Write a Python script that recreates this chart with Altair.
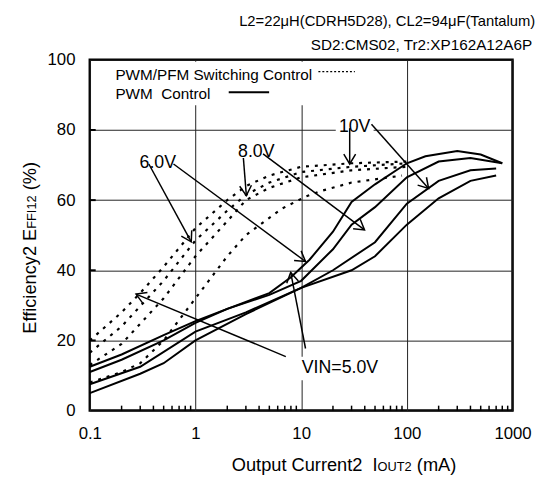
import math
import altair as alt
import pandas as pd

# ---------------- data ----------------
# PWM control (solid curves)
pwm_5v_x = [0.1, 0.2, 0.5, 1, 2, 5, 8, 12, 20, 30, 50, 100, 150, 300, 500, 800]
pwm_5v_y = [12.5, 16, 21.5, 25.5, 29, 33.5, 38, 43, 51, 59.5, 64.5, 70.5, 72.5, 74, 73, 70.5]
pwm_6v_x = [0.1, 0.2, 0.5, 1, 2, 5, 10, 20, 30, 50, 100, 200, 400, 800]
pwm_6v_y = [11, 14.5, 20, 25, 29, 33, 37, 46, 53, 58, 66.5, 71, 72, 70.5]
pwm_8v_x = [0.1, 0.3, 1, 3, 10, 20, 50, 100, 200, 400, 700]
pwm_8v_y = [7.5, 12.5, 22.5, 28, 35, 40, 48, 59, 65.5, 68.5, 69]
pwm_10v_x = [0.1, 0.3, 0.5, 1, 3, 10, 30, 50, 100, 200, 400, 700]
pwm_10v_y = [5, 10.5, 13.5, 20, 27.5, 35, 40, 44, 53, 60.5, 65.5, 67]

# PWM/PFM switching control (dotted curves)
pfm_5v_x = [0.1, 0.2, 0.3, 0.5, 1, 2, 3, 5, 10, 30, 100]
pfm_5v_y = [20, 28, 33.5, 41, 52, 60, 64, 67, 69.5, 70.5, 71]
pfm_6v_x = [0.1, 0.2, 0.5, 1, 2, 3, 5, 10, 30, 100]
pfm_6v_y = [16.5, 24, 37, 48.5, 57, 61.5, 65, 68, 69.5, 70.5]
pfm_8v_x = [0.1, 0.2, 0.5, 1, 2, 3, 5, 10, 30, 100]
pfm_8v_y = [13, 19, 32, 44, 54, 60, 63.5, 66.5, 68.5, 69.5]
pfm_10v_x = [0.1, 0.2, 0.3, 0.5, 1, 2, 3, 6.5, 11, 15, 30, 90]
pfm_10v_y = [8, 11, 13.5, 20, 32, 44, 50, 57.5, 61, 62.5, 65, 67]

# annotation labels and arrows (data coordinates)
label_text = ["6.0V", "8.0V", "10V", "VIN=5.0V"]
label_x = [0.44, 3.76, 32.1, 23.3]
label_y = [70.6, 73.7, 80.8, 12.0]

arrow_x1 = [0.362, 0.62, 2.84, 4.36, 28.8, 46.3, 7.16, 11.0]
arrow_y1 = [70.3, 70.3, 72.0, 73.2, 80.5, 81.6, 15.4, 17.7]
arrow_x2 = [0.912, 11.0, 3.03, 39.8, 28.8, 160.7, 0.274, 7.96]
arrow_y2 = [48.1, 42.5, 61.3, 51.5, 70.3, 63.3, 33.2, 39.4]

x_ticks = [0.1, 1, 10, 100, 1000]
y_ticks = [0, 20, 40, 60, 80, 100]
minor_x = [k * 10 ** d for d in range(-1, 3) for k in range(2, 10)]
inner_y = [20, 40, 60, 80]

NB = "\u00a0"
header_1 = "L2=22\u03bcH(CDRH5D28), CL2=94\u03bcF(Tantalum)"
header_2 = "SD2:CMS02, Tr2:XP162A12A6P"
legend_1 = "PWM/PFM Switching Control"
legend_2 = "PWM" + NB + NB + "Control"

# ---------------- build tables ----------------
rows = []
for mode, name, xs, ys in [
    ("PWM", "5.0V", pwm_5v_x, pwm_5v_y), ("PWM", "6.0V", pwm_6v_x, pwm_6v_y),
    ("PWM", "8.0V", pwm_8v_x, pwm_8v_y), ("PWM", "10V", pwm_10v_x, pwm_10v_y),
    ("PFM", "5.0V", pfm_5v_x, pfm_5v_y), ("PFM", "6.0V", pfm_6v_x, pfm_6v_y),
    ("PFM", "8.0V", pfm_8v_x, pfm_8v_y), ("PFM", "10V", pfm_10v_x, pfm_10v_y),
]:
    for i, (x, y) in enumerate(zip(xs, ys)):
        rows.append({"mode": mode, "vin": name, "i": i, "x": x, "y": y})
df = pd.DataFrame(rows)

W, H = 429, 356
FONT = "Liberation Sans"


def px(x):
    return (math.log10(x) + 1) / 4 * W


def py(y):
    return (1 - y / 100) * H


def inv_x(p):
    return 10 ** (p / W * 4 - 1)


def inv_y(p):
    return (1 - p / H) * 100


arrows = pd.DataFrame({"x1": arrow_x1, "y1": arrow_y1, "x2": arrow_x2, "y2": arrow_y2})
arrows["angle"] = [
    math.degrees(math.atan2(py(b2) - py(b1), px(a2) - px(a1))) % 360
    for a1, b1, a2, b2 in zip(arrow_x1, arrow_y1, arrow_x2, arrow_y2)
]

LBL_SIZE = 18
labels = pd.DataFrame({"t": label_text, "x": label_x, "y": label_y})
labels["bx1"] = [inv_x(px(x) - len(t) * LBL_SIZE * 0.3 - 3) for t, x in zip(label_text, label_x)]
labels["bx2"] = [inv_x(px(x) + len(t) * LBL_SIZE * 0.3 + 3) for t, x in zip(label_text, label_x)]
labels["by1"] = [inv_y(py(y) - 12) for y in label_y]
labels["by2"] = [inv_y(py(y) + 12) for y in label_y]

xscale = alt.Scale(type="log", domain=[0.1, 1000], nice=False)
yscale = alt.Scale(domain=[0, 100], nice=False, zero=False)
xaxis = alt.Axis(values=x_ticks, format="~g", title=None, ticks=False, domain=False,
                 grid=True, gridColor="#222", gridWidth=1, labelFontSize=17,
                 labelFont=FONT, labelColor="black", labelPadding=15,
                 labelFlush=False)
yaxis = alt.Axis(values=y_ticks, title=None, ticks=False, domain=False,
                 grid=True, gridColor="#222", gridWidth=1, labelFontSize=17,
                 labelFont=FONT, labelColor="black", labelPadding=15)


def X(f):
    return alt.X(f, type="quantitative", scale=xscale, axis=xaxis)


def Y(f):
    return alt.Y(f, type="quantitative", scale=yscale, axis=yaxis)


one = pd.DataFrame({"a": [0]})

# white boxes behind labels and legend
label_boxes = alt.Chart(labels).mark_rect(fill="white").encode(
    x=X("bx1"), x2="bx2", y=Y("by1"), y2="by2")
legend_box = alt.Chart(one).mark_rect(fill="white").encode(
    x=alt.value(2), x2=alt.value(282), y=alt.value(2), y2=alt.value(46))

minor = alt.Chart(pd.DataFrame({"x": minor_x})).mark_rule(color="black", strokeWidth=1.5).encode(
    x=X("x"), y=alt.value(H), y2=alt.value(H - 5))
ytk = alt.Chart(pd.DataFrame({"y": inner_y})).mark_rule(color="black", strokeWidth=2).encode(
    y=Y("y"), x=alt.value(0), x2=alt.value(6))

dotted = alt.Chart(df[df["mode"] == "PFM"]).mark_line(
    color="black", strokeWidth=2.2, strokeDash=[3, 6]).encode(
    x=X("x"), y=Y("y"), detail="vin:N", order="i:Q")
solid = alt.Chart(df[df["mode"] == "PWM"]).mark_line(
    color="black", strokeWidth=2).encode(
    x=X("x"), y=Y("y"), detail="vin:N", order="i:Q")

arrow_lines = alt.Chart(arrows).mark_rule(color="black", strokeWidth=1.5).encode(
    x=X("x1"), y=Y("y1"), x2="x2", y2="y2")
arrow_heads = alt.Chart(arrows).mark_point(
    shape="M -1 -0.6 L 0 0 L -1 0.6", filled=False, size=400,
    stroke="black", strokeWidth=1.5, opacity=1).encode(
    x=X("x2"), y=Y("y2"), angle=alt.Angle("angle:Q", scale=None))

label_marks = alt.Chart(labels).mark_text(
    fontSize=LBL_SIZE, font=FONT, color="black").encode(
    x=X("x"), y=Y("y"), text="t:N")

# legend
LEG = 15.5
leg_t1 = alt.Chart(one).mark_text(text=legend_1, fontSize=LEG, font=FONT, align="left",
                                  baseline="middle", color="black").encode(
    x=alt.value(26), y=alt.value(15))
leg_t2 = alt.Chart(one).mark_text(text=legend_2, fontSize=LEG, font=FONT, align="left",
                                  baseline="middle", color="black").encode(
    x=alt.value(26), y=alt.value(35))
leg_s1 = alt.Chart(one).mark_rule(color="black", strokeWidth=1.5, strokeDash=[2, 2]).encode(
    x=alt.value(232), x2=alt.value(269), y=alt.value(12))
leg_s2 = alt.Chart(one).mark_rule(color="black", strokeWidth=2).encode(
    x=alt.value(141), x2=alt.value(182), y=alt.value(33))

# header
head1 = alt.Chart(one).mark_text(text=header_1, fontSize=15, font=FONT, align="right",
                                 baseline="middle", color="black").encode(
    x=alt.value(452), y=alt.value(-39))
head2 = alt.Chart(one).mark_text(text=header_2, fontSize=15.5, font=FONT, align="right",
                                 baseline="middle", color="black").encode(
    x=alt.value(449), y=alt.value(-15))

# axis titles with small-caps subscripts
ARIAL = {"O": 778, "u": 556, "t": 278, "p": 556, " ": 278, NB: 278, "C": 722, "r": 333,
         "e": 556, "n": 556, "2": 556, "I": 278, "U": 722, "T": 611, "(": 333, "m": 833,
         "A": 667, ")": 333, "E": 667, "f": 278, "i": 222, "c": 500, "y": 500, "F": 611,
         "1": 556, "%": 889}


def tw(s, size):
    return sum(ARIAL.get(c, 556) for c in s) / 1000 * size


BIG, SMALL = 18.5, 13
GAP = tw(" ", BIG)
xa, xb, xc = "Output Current2" + NB + NB + "I", "OUT2", "(mA)"
tot = tw(xa, BIG) + tw(xb, SMALL) + GAP + tw(xc, BIG)
xp = 258 - tot / 2 + tw(xa, BIG)
xbase = H + 61
xt1 = alt.Chart(one).mark_text(text=xa, fontSize=BIG, font=FONT, align="right",
                               baseline="alphabetic", color="black").encode(
    x=alt.value(xp), y=alt.value(xbase))
xt2 = alt.Chart(one).mark_text(text=xb, fontSize=SMALL, font=FONT, align="left",
                               baseline="alphabetic", color="black").encode(
    x=alt.value(xp), y=alt.value(xbase))
xt3 = alt.Chart(one).mark_text(text=xc, fontSize=BIG, font=FONT, align="left",
                               baseline="alphabetic", color="black").encode(
    x=alt.value(xp + tw(xb, SMALL) + GAP), y=alt.value(xbase))

ya, yb, yc = "Efficiency2" + NB + "E", "FFI12", "(%)"
ytot = tw(ya, BIG) + tw(yb, SMALL) + GAP + tw(yc, BIG)
yp = 191 + ytot / 2 - tw(ya, BIG)
ybase = -55
yt1 = alt.Chart(one).mark_text(text=ya, fontSize=BIG, font=FONT, align="right", angle=270,
                               baseline="alphabetic", color="black").encode(
    x=alt.value(ybase), y=alt.value(yp))
yt2 = alt.Chart(one).mark_text(text=yb, fontSize=SMALL, font=FONT, align="left", angle=270,
                               baseline="alphabetic", color="black").encode(
    x=alt.value(ybase), y=alt.value(yp))
yt3 = alt.Chart(one).mark_text(text=yc, fontSize=BIG, font=FONT, align="left", angle=270,
                               baseline="alphabetic", color="black").encode(
    x=alt.value(ybase), y=alt.value(yp - tw(yb, SMALL) - GAP))

chart = alt.layer(
    label_boxes, legend_box, minor, ytk, dotted, solid, arrow_lines, arrow_heads,
    label_marks, leg_t1, leg_t2, leg_s1, leg_s2, head1, head2,
    xt1, xt2, xt3, yt1, yt2, yt3,
).properties(
    width=W, height=H,
    autosize=alt.AutoSizeParams(type="none"),
    padding={"left": 83, "top": 49, "right": 35, "bottom": 76},
    background="white",
).configure_view(stroke="black", strokeWidth=2.5)

chart.save("out.html", embed_options={"renderer": "svg", "actions": False})
